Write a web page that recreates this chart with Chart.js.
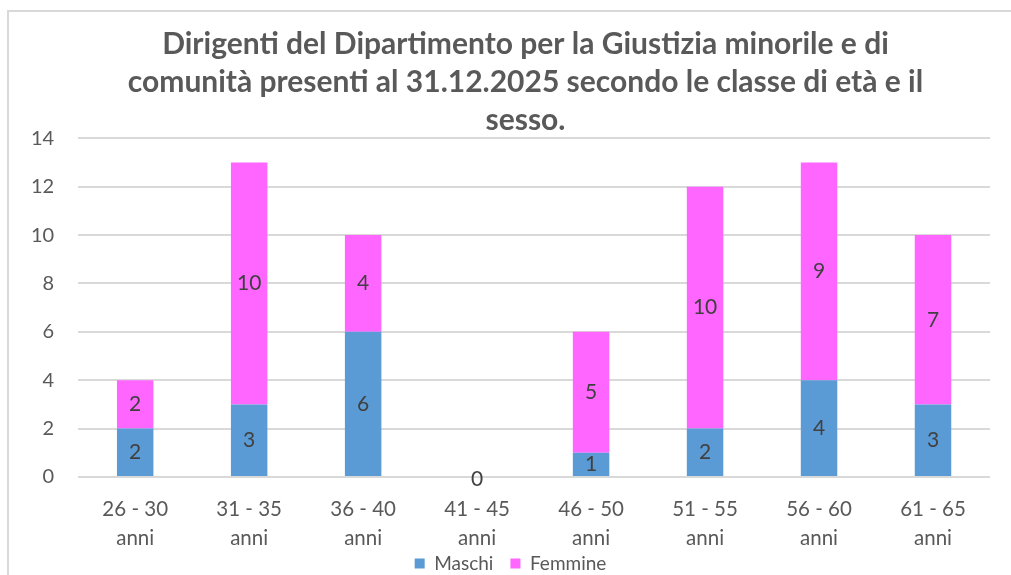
<!DOCTYPE html>
<html>
<head>
<meta charset="utf-8">
<script src="https://cdn.jsdelivr.net/npm/chart.js@4.4.1/dist/chart.umd.min.js"></script>
<style>
  html, body { margin: 0; padding: 0; background: #ffffff; }
  #wrap { position: relative; width: 1011px; height: 575px; }
</style>
</head>
<body>
<div id="wrap"><canvas id="c" width="1011" height="575"></canvas></div>
<script>
const categories = [
  ["26 - 30", "anni"], ["31 - 35", "anni"], ["36 - 40", "anni"], ["41 - 45", "anni"],
  ["46 - 50", "anni"], ["51 - 55", "anni"], ["56 - 60", "anni"], ["61 - 65", "anni"]
];
const maschi = [2, 3, 6, 0, 1, 2, 4, 3];
const femmine = [2, 10, 4, null, 5, 10, 9, 7];
const titleLines = [
  "Dirigenti del Dipartimento per la Giustizia minorile e di",
  "comunità presenti al 31.12.2025 secondo le classe di età e il",
  "sesso."
];
const seriesNames = ["Maschi", "Femmine"];

const FONT = "Lato, 'Liberation Sans', sans-serif";
const TXT = "#595959";

const borderPlugin = {
  id: 'outerBorder',
  beforeDraw(chart) {
    const ctx = chart.ctx;
    ctx.save();
    ctx.fillStyle = '#ffffff';
    ctx.fillRect(0, 0, chart.width, chart.height);
    ctx.strokeStyle = '#d9d9d9';
    ctx.lineWidth = 2;
    ctx.strokeRect(8, 11, chart.width + 10, chart.height + 10);
    ctx.restore();
  }
};

// nudge title and legend boxes to the reference positions
const placePlugin = {
  id: 'placeBoxes',
  afterLayout(chart) {
    const lg = chart.legend;
    if (lg) { lg.top -= 17; lg.bottom -= 17; lg.left += 12; lg.right += 12; }
    const t = chart.titleBlock;
    if (t) { t.left += 27; t.right += 27; t.top += 1; t.bottom += 1; }
  }
};

const labelPlugin = {
  id: 'barLabels',
  afterDatasetsDraw(chart) {
    const ctx = chart.ctx;
    ctx.save();
    ctx.font = "21px " + FONT;
    ctx.fillStyle = "#404040";
    ctx.textAlign = 'center';
    ctx.textBaseline = 'middle';
    chart.data.datasets.forEach((ds, di) => {
      const meta = chart.getDatasetMeta(di);
      meta.data.forEach((el, i) => {
        const v = ds.data[i];
        if (v === null || v === undefined) return;
        const p = el.getProps(['x', 'y', 'base'], true);
        let y = (p.y + p.base) / 2;
        if (v === 0) y = p.base + 2;
        ctx.fillText(String(v), p.x, y);
      });
    });
    ctx.restore();
  }
};

new Chart(document.getElementById('c'), {
  type: 'bar',
  data: {
    labels: categories,
    datasets: [
      { label: seriesNames[0], data: maschi, backgroundColor: '#5B9BD5', borderWidth: 0 },
      { label: seriesNames[1], data: femmine, backgroundColor: '#FF66FF', borderWidth: 0 }
    ]
  },
  options: {
    responsive: false,
    animation: false,
    layout: { padding: { left: 7, right: 21, top: 24, bottom: -25 } },
    datasets: { bar: { categoryPercentage: 1.0, barPercentage: 0.32 } },
    plugins: {
      title: {
        display: true,
        text: titleLines,
        color: TXT,
        font: { family: FONT, size: 30, weight: 'bold', lineHeight: 1.27 },
        padding: { top: 0, bottom: 0 }
      },
      legend: {
        position: 'bottom',
        labels: {
          color: TXT,
          font: { family: FONT, size: 19 },
          boxWidth: 10, boxHeight: 10,
          padding: 17
        }
      },
      tooltip: { enabled: false }
    },
    scales: {
      x: {
        stacked: true,
        grid: { display: false },
        border: { display: false },
        ticks: { color: TXT, font: { family: FONT, size: 20.5, lineHeight: 1.4 }, maxRotation: 0, padding: 10 },
        afterFit: (s) => { s.height = 77; }
      },
      y: {
        stacked: true,
        min: 0, max: 14,
        ticks: { stepSize: 2, color: TXT, font: { family: FONT, size: 20 }, padding: 24 },
        grid: { color: '#d9d9d9', lineWidth: 2, drawTicks: false },
        border: { display: false }
      }
    }
  },
  plugins: [borderPlugin, placePlugin, labelPlugin]
});
</script>
</body>
</html>
